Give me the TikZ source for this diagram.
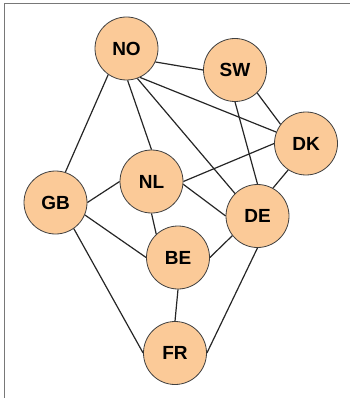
\documentclass[tikz,border=0pt]{standalone}
\usepackage{fontspec}
\setmainfont{Liberation Sans}
\definecolor{peach}{RGB}{251,202,152}
\definecolor{framegray}{RGB}{120,120,120}
\begin{document}
\begin{tikzpicture}[x=1pt,y=-1pt,
  country/.style={circle,draw=black!75,line width=0.8pt,fill=peach,minimum size=63pt,inner sep=0pt,font=\fontsize{19}{21}\selectfont\bfseries},
  link/.style={line width=1.2pt,black!85}]
\useasboundingbox (0,0) rectangle (350,398);
\draw[framegray,line width=1.5pt] (4.5,398) -- (4.5,3.5) -- (350,3.5);
\node[country] (NO) at (126.5,48.5) {NO};
\node[country] (SW) at (235,70) {SW};
\node[country] (DK) at (306,143.5) {DK};
\node[country] (GB) at (55.5,202.5) {GB};
\node[country] (NL) at (151.5,181.5) {NL};
\node[country] (DE) at (257.5,216) {DE};
\node[country] (BE) at (178,257.5) {BE};
\node[country] (FR) at (175,353) {FR};
\draw[link] (NO.-25) -- (SW.180);
\draw[link] (NO.-65) -- (DK.159);
\draw[link] (NO.-70) -- (DE.135);
\draw[link] (NO.-88) -- (NL.90);
\draw[link] (NO.235) -- (GB.72);
\draw[link] (SW.-46) -- (DK.143);
\draw[link] (SW.-90) -- (DE.90);
\draw[link] (DK.236) -- (DE.61);
\draw[link] (DK.180) -- (NL.0);
\draw[link] (GB.0) -- (NL.180);
\draw[link] (GB.-23) -- (BE.180);
\draw[link] (GB.-55) -- (FR.180);
\draw[link] (NL.-90) -- (BE.133);
\draw[link] (NL.-5) -- (DE.180);
\draw[link] (BE.0) -- (DE.218);
\draw[link] (BE.-90) -- (FR.90);
\draw[link] (DE.-90) -- (FR.0);
\end{tikzpicture}
\end{document}
